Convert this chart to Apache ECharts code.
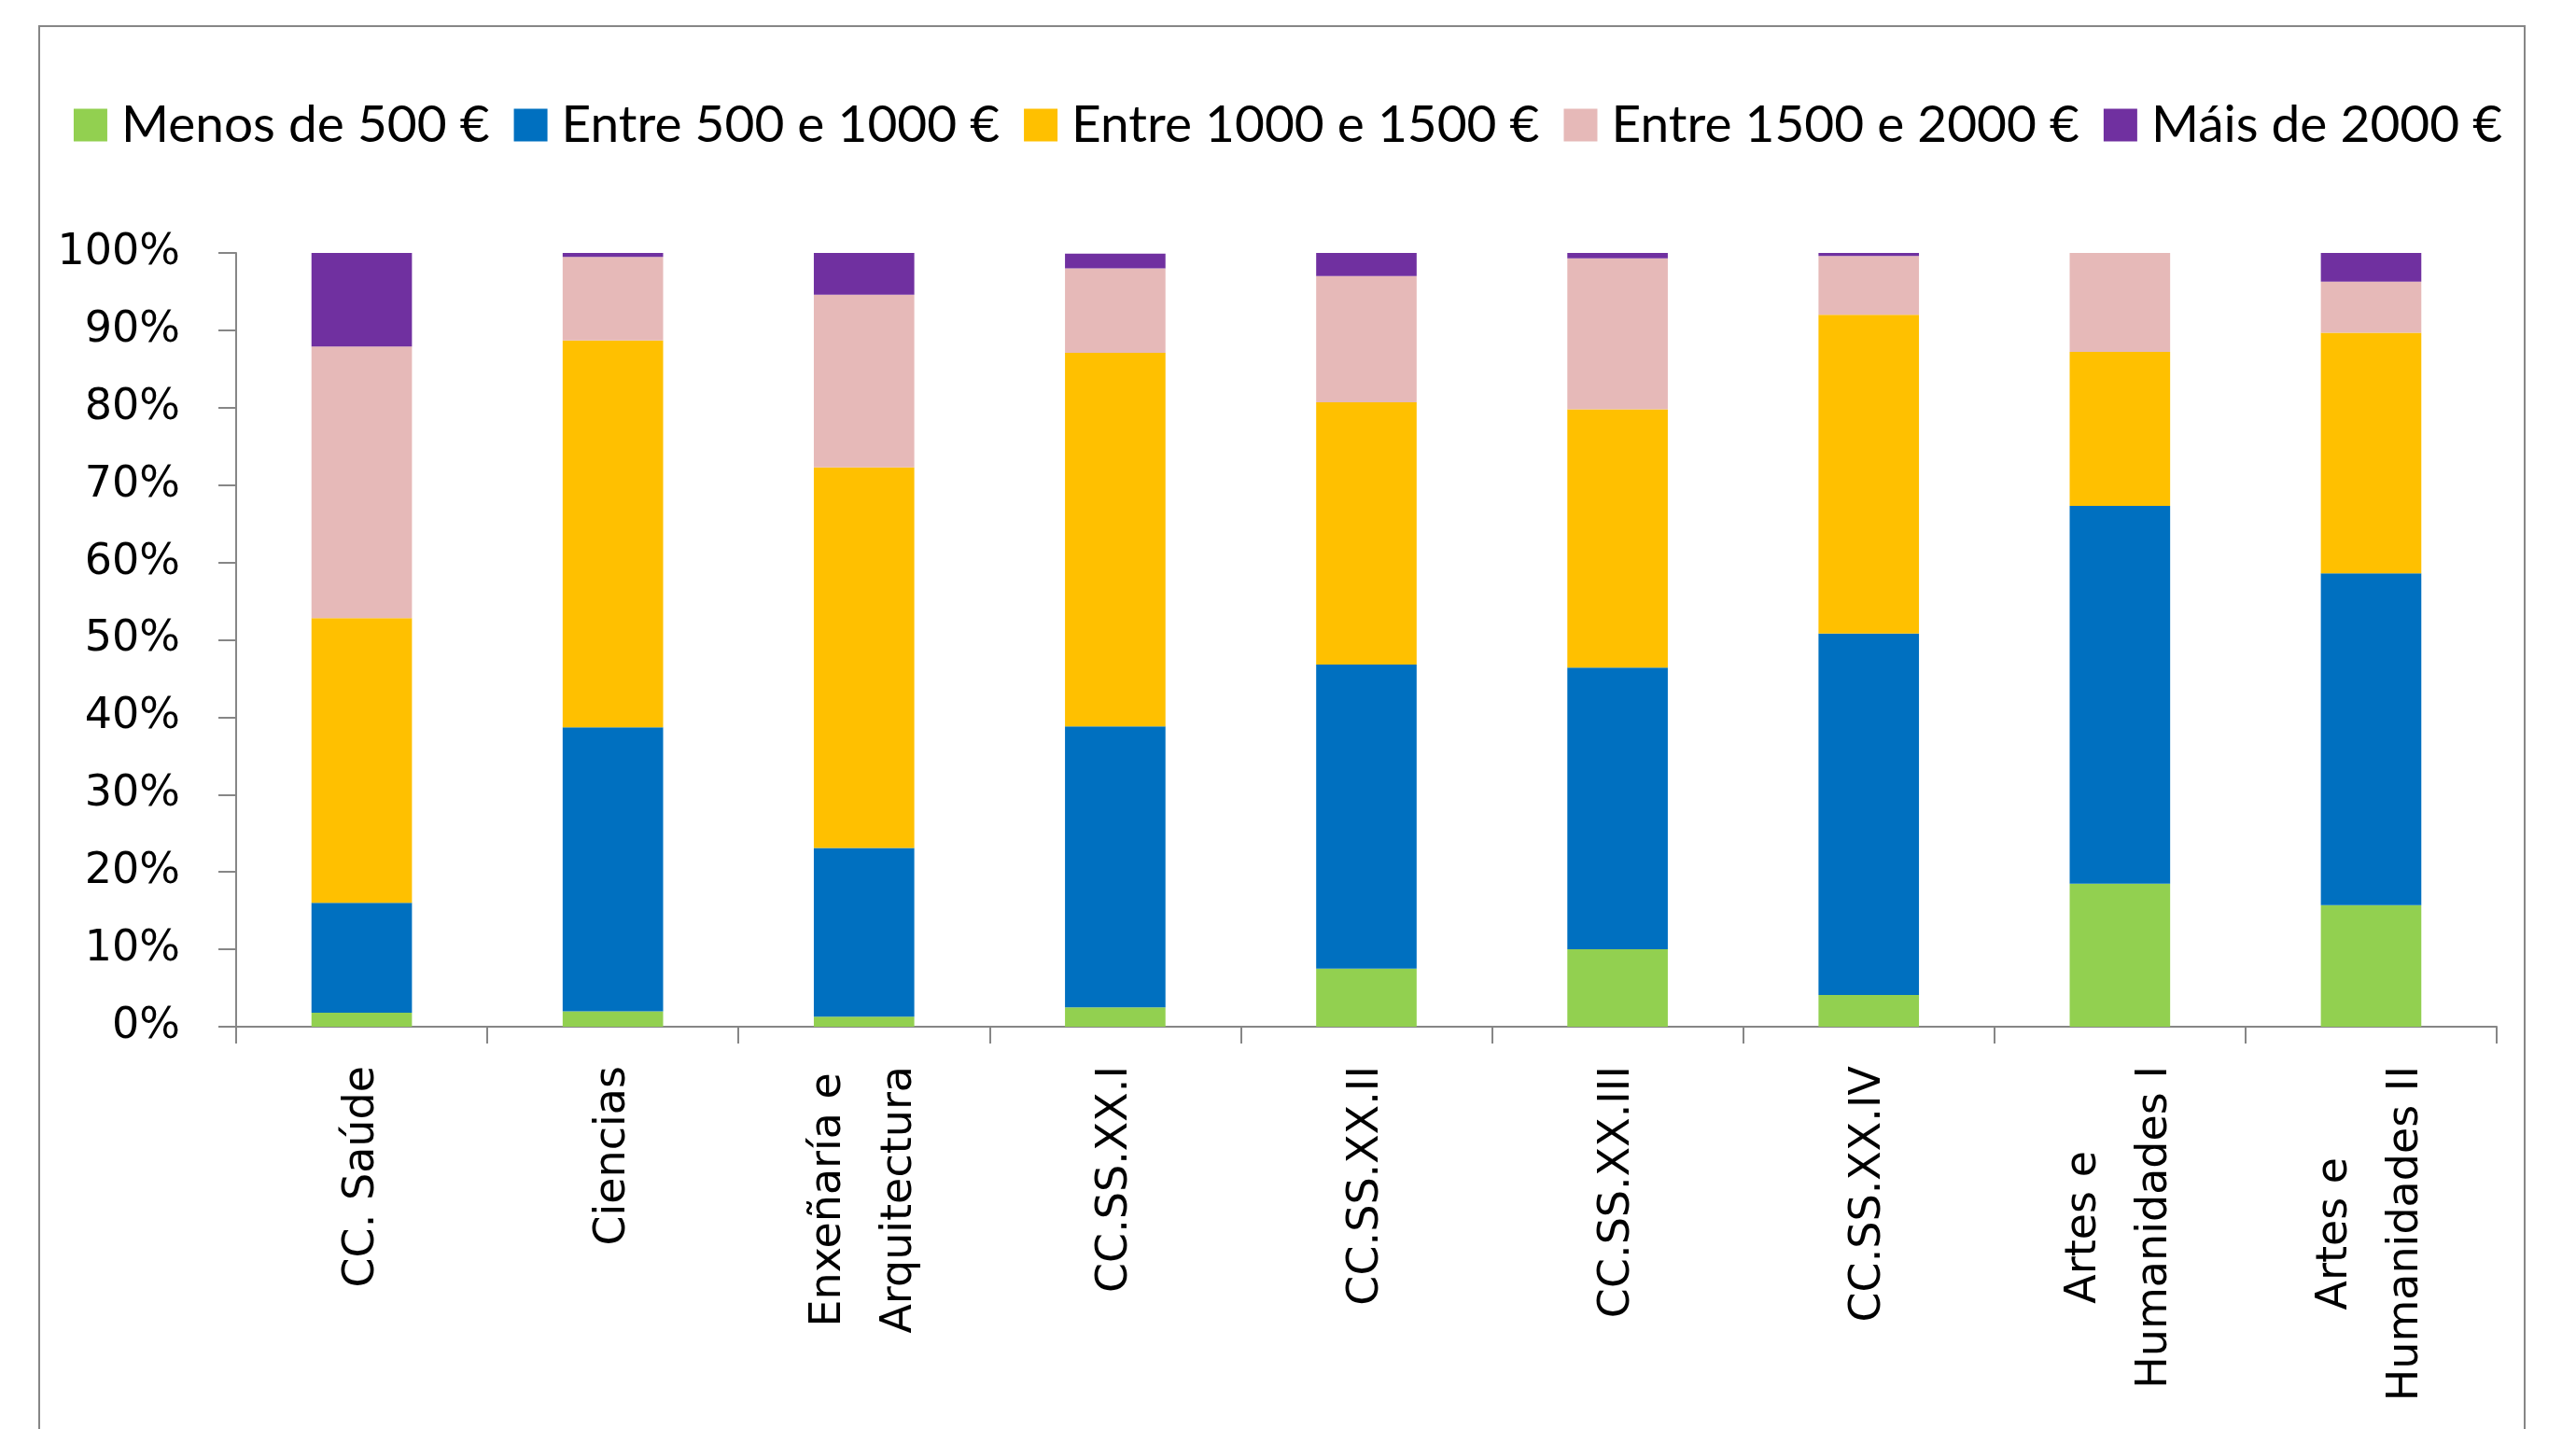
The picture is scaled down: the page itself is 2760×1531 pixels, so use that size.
<!DOCTYPE html>
<html>
<head>
<meta charset="utf-8">
<script src="https://cdn.jsdelivr.net/npm/echarts@6/dist/echarts.min.js"></script>
<style>
html,body{margin:0;padding:0;background:#fff;}
#chart{width:2760px;height:1531px;}
</style>
</head>
<body>
<div id="chart"></div>
<script>
const categories = ["CC. Saúde", "Ciencias", "Enxeñaría e\nArquitectura", "CC.SS.XX.I", "CC.SS.XX.II", "CC.SS.XX.III", "CC.SS.XX.IV", "Artes e\nHumanidades I", "Artes e\nHumanidades II"];
const seriesNames = ["Menos de 500 €", "Entre 500 e 1000 €", "Entre 1000 e 1500 €", "Entre 1500 e 2000 €", "Máis de 2000 €"];
const menos500   = [1.8, 2.0, 1.3, 2.5, 7.5, 10.0, 4.1, 18.5, 15.7];
const e500_1000  = [14.2, 36.7, 21.8, 36.3, 39.3, 36.4, 46.7, 48.8, 42.9];
const e1000_1500 = [36.8, 50.0, 49.2, 48.3, 33.9, 33.4, 41.2, 19.9, 31.1];
const e1500_2000 = [35.1, 10.8, 22.3, 10.9, 16.3, 19.5, 7.6, 12.8, 6.6];
const mais2000   = [12.1, 0.5, 5.5, 1.9, 3.0, 0.7, 0.5, 0.0, 3.7];
const colors = ["#92D050", "#0070C0", "#FFC000", "#E6B9B8", "#7030A0"];
const values = [menos500, e500_1000, e1000_1500, e1500_2000, mais2000];

const chart = echarts.init(document.getElementById('chart'), null, {renderer: 'canvas'});
const axisFont = "DejaVu Sans";
chart.setOption({
  backgroundColor: '#ffffff',
  animation: false,
  graphic: [{
    type: 'rect',
    shape: {x: 42, y: 28, width: 2663, height: 1600},
    style: {fill: 'none', stroke: '#868686', lineWidth: 2},
    silent: true
  }],
  legend: {
    data: seriesNames,
    left: 'center',
    top: 104,
    width: 2720,
    padding: 0,
    itemWidth: 36,
    itemHeight: 35,
    itemGap: 26,
    icon: 'rect',
    textStyle: {fontFamily: "Lato", fontSize: 55, color: '#000', lineHeight: 60, padding: [0, 0, 0, 10]}
  },
  grid: {left: 253, right: 85, top: 271, bottom: 431, containLabel: false},
  xAxis: {
    type: 'category',
    data: categories,
    axisLine: {lineStyle: {color: '#868686', width: 2}},
    axisTick: {show: true, length: 18, lineStyle: {color: '#868686', width: 2}},
    axisLabel: {
      rotate: 90,
      margin: 42,
      interval: 0,
      color: '#000',
      fontFamily: axisFont,
      fontSize: 46,
      lineHeight: 76,
      formatter: function (v) { return v.split('\n').map(function (s) { return '{c|' + s + '}'; }).join('\n'); },
      rich: {c: {align: 'center', fontFamily: axisFont, fontSize: 46, lineHeight: 76, color: '#000'}}
    }
  },
  yAxis: {
    type: 'value',
    min: 0,
    max: 100,
    interval: 10,
    splitLine: {show: false},
    axisLine: {show: true, lineStyle: {color: '#868686', width: 2}},
    axisTick: {show: true, length: 19, lineStyle: {color: '#868686', width: 2}},
    axisLabel: {formatter: '{value}%', margin: 60, color: '#000', fontFamily: axisFont, fontSize: 46}
  },
  series: seriesNames.map(function (name, i) {
    return {
      name: name,
      type: 'bar',
      stack: 'total',
      barWidth: '40%',
      itemStyle: {color: colors[i]},
      data: values[i]
    };
  })
});
</script>
</body>
</html>
